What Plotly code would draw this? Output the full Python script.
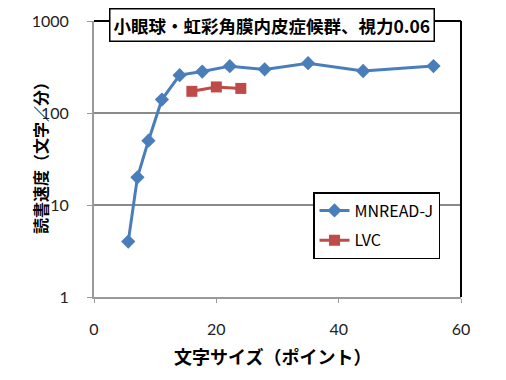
import plotly.graph_objects as go

mnread_x = [5.6, 7.1, 8.9, 11.1, 14.0, 17.7, 22.2, 27.9, 35.0, 44.0, 55.5]
mnread_y = [4, 20, 50, 140, 258, 282, 323, 298, 348, 286, 324]
lvc_x = [16.0, 20.0, 24.0]
lvc_y = [172, 192, 185]
title_text = "小眼球・虹彩角膜内皮症候群、視力0.06"
x_title = "文字サイズ（ポイント）"
y_title = "読書速度（文字／分）"
x_ticks = [0, 20, 40, 60]
y_ticks = [1, 10, 100, 1000]

L, R, T, B = 94, 461, 21, 297
W, H = 506, 380
PW, PH = R - L, B - T

def px(xp):
    return (xp - L) / PW

def py(yp):
    return (B - yp) / PH

fig = go.Figure()
fig.add_trace(go.Scatter(
    x=mnread_x, y=mnread_y, mode="lines+markers", name="MNREAD-J",
    line=dict(color="#4A7EBB", width=3),
    marker=dict(symbol="diamond", size=11, color="#4A7EBB"),
    legendgroup="a"))
fig.add_trace(go.Scatter(
    x=lvc_x, y=lvc_y, mode="lines+markers", name="LVC",
    line=dict(color="#BE4B48", width=3),
    marker=dict(symbol="square", size=11, color="#BE4B48"),
    legendgroup="b"))

fig.update_layout(
    width=W, height=H,
    margin=dict(l=L, r=W - R, t=T, b=H - B, autoexpand=False),
    paper_bgcolor="white", plot_bgcolor="white",
    font=dict(family="Lato, Noto Sans CJK JP, sans-serif", color="#000"),
    showlegend=True,
    legend=dict(
        x=px(313), y=py(192), xanchor="left", yanchor="top",
        bgcolor="white", bordercolor="black", borderwidth=1.5,
        font=dict(family="Liberation Sans Narrow, Noto Sans CJK JP, sans-serif", size=16),
        traceorder="grouped", tracegroupgap=6, itemwidth=30),
    xaxis=dict(
        range=[0, 60], tickvals=x_ticks, ticktext=[str(v) for v in x_ticks],
        showgrid=False, zeroline=False, automargin=False,
        showline=True, linecolor="#9a9a9a", linewidth=2,
        ticks="outside", ticklen=4, tickcolor="#9a9a9a",
        ticklabelstandoff=13,
        tickfont=dict(size=16, family="Lato, sans-serif", color="#222")),
    yaxis=dict(
        type="log", range=[0, 3], tickvals=y_ticks, ticktext=[str(v) for v in y_ticks],
        showgrid=True, gridcolor="#8a8a8a", gridwidth=1.5, zeroline=False, automargin=False,
        showline=True, linecolor="#9a9a9a", linewidth=2,
        ticks="outside", ticklen=5, tickcolor="#9a9a9a",
        ticklabelstandoff=15,
        tickfont=dict(size=16, family="Lato, sans-serif", color="#222")),
)

# black border on top and right of the plot area
fig.add_shape(type="line", xref="x domain", yref="y domain", x0=0, x1=1, y0=1, y1=1,
              line=dict(color="black", width=2))
fig.add_shape(type="line", xref="x domain", yref="y domain", x0=1, x1=1, y0=0, y1=1,
              line=dict(color="black", width=2))

fig.add_annotation(
    text="<b>" + title_text + "</b>", xref="paper", yref="paper",
    x=px(272), y=py(25), xanchor="center", yanchor="middle",
    showarrow=False, bgcolor="white", bordercolor="black", borderwidth=1.5,
    borderpad=3, font=dict(size=17.5, family="Noto Sans CJK JP", color="black"))

fig.add_annotation(
    text="<b>" + x_title + "</b>", xref="paper", yref="paper",
    x=px(272), y=py(356), xanchor="center", yanchor="middle",
    showarrow=False, font=dict(size=18, family="Noto Sans CJK JP", color="black"))

fig.add_annotation(
    text="<b>" + y_title + "</b>", xref="paper", yref="paper",
    x=px(40), y=py(154), xanchor="center", yanchor="middle", textangle=-90,
    showarrow=False, font=dict(size=16, family="Noto Sans CJK JP", color="black"))

fig.write_html("out.html", config={"displayModeBar": False},
               post_script="document.body.style.margin='0px';")
